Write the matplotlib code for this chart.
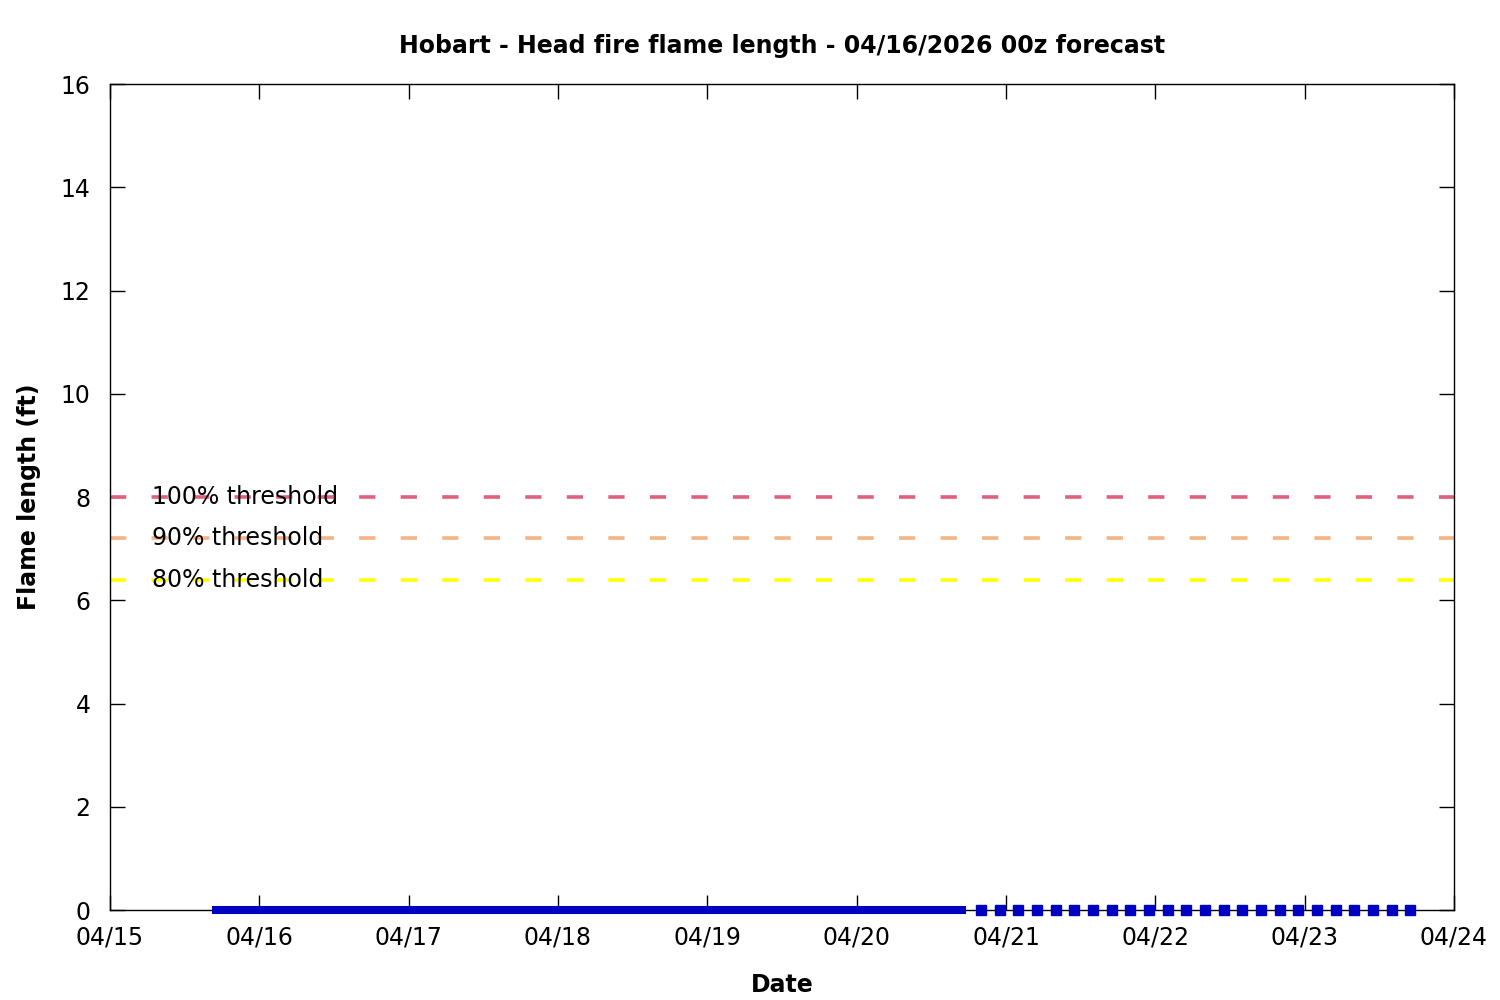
import numpy as np
import pandas as pd
import matplotlib
matplotlib.use("Agg")
import matplotlib.pyplot as plt
import matplotlib.dates as mdates

# observed / short-range hourly values (all zero)
obs_times = pd.date_range("2026-04-15 17:00", "2026-04-20 17:00", freq="h")
obs_flame = [0.0] * len(obs_times)

# extended 3-hourly forecast (all zero)
fc_times = pd.date_range("2026-04-20 20:00", "2026-04-23 17:00", freq="3h")
fc_flame = [0.0] * len(fc_times)

thresh_vals = [8.0, 7.2, 6.4]
thresh_labels = ["100% threshold", "90% threshold", "80% threshold"]
thresh_colors = ["#e0607e", "#f4b485", "#ffff00"]

x_start = pd.Timestamp("2026-04-15")
x_end = pd.Timestamp("2026-04-24")

fig = plt.figure(figsize=(15, 10), dpi=100)
ax = fig.add_axes([0.0733, 0.09, 0.896, 0.826])

for v, lab, c in zip(thresh_vals, thresh_labels, thresh_colors):
    ax.plot([x_start, x_end], [v, v], color=c, lw=2.6, dashes=(4.5, 7.0))
    ax.text(0.031, v, lab, transform=ax.get_yaxis_transform(),
            fontsize=17, va="center", ha="left")

ax.plot(obs_times, obs_flame, color="#0000c0", lw=5.8,
        solid_capstyle="projecting", clip_on=False, zorder=3)
ax.plot(fc_times, fc_flame, ls="none", marker="s", ms=6.5, color="#0000c0",
        clip_on=False, zorder=3)

ax.set_xlim(x_start, x_end)
ax.set_ylim(0, 16)
ax.set_yticks(np.arange(0, 17, 2))
ax.xaxis.set_major_locator(mdates.DayLocator())
ax.xaxis.set_major_formatter(mdates.DateFormatter("%m/%d"))
ax.tick_params(direction="in", top=True, right=True, length=11, width=1,
               labelsize=17)
ax.tick_params(axis="x", pad=11)
ax.tick_params(axis="y", pad=14)
for s in ax.spines.values():
    s.set_linewidth(1)

ax.set_title("Hobart - Head fire flame length - 04/16/2026 00z forecast",
             fontsize=17, fontweight="bold", pad=22)
ax.set_xlabel("Date", fontsize=17, fontweight="bold", labelpad=17)
ax.set_ylabel("Flame length (ft)", fontsize=17, fontweight="bold", labelpad=14)

fig.savefig("out.png", dpi=100)
